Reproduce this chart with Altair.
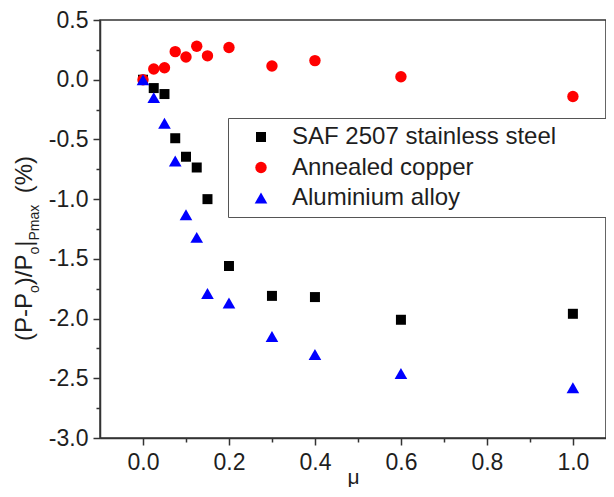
import altair as alt
import pandas as pd

FONT = "Liberation Sans"

# ---- data ----
names = ["SAF 2507 stainless steel", "Annealed copper", "Aluminium alloy"]
mu_steel = [0.0, 0.025, 0.05, 0.075, 0.1, 0.125, 0.15, 0.2, 0.3, 0.4, 0.6, 1.0]
val_steel = [0.0, -0.07, -0.12, -0.49, -0.645, -0.735, -1.0, -1.56, -1.81, -1.82, -2.01, -1.96]
mu_copper = [0.0, 0.025, 0.05, 0.075, 0.1, 0.125, 0.15, 0.2, 0.3, 0.4, 0.6, 1.0]
val_copper = [0.0, 0.09, 0.10, 0.235, 0.19, 0.28, 0.20, 0.27, 0.115, 0.16, 0.025, -0.14]
mu_alum = [0.0, 0.025, 0.05, 0.075, 0.1, 0.125, 0.15, 0.2, 0.3, 0.4, 0.6, 1.0]
val_alum = [0.0, -0.15, -0.365, -0.68, -1.13, -1.32, -1.79, -1.87, -2.15, -2.30, -2.46, -2.58]

x_ticks = [0.0, 0.1, 0.2, 0.3, 0.4, 0.5, 0.6, 0.7, 0.8, 0.9, 1.0]
y_ticks = [-3.0, -2.75, -2.5, -2.25, -2.0, -1.75, -1.5, -1.25, -1.0, -0.75,
           -0.5, -0.25, 0.0, 0.25, 0.5]

rows = []
for name, mus, vals in [(names[0], mu_steel, val_steel),
                        (names[1], mu_copper, val_copper),
                        (names[2], mu_alum, val_alum)]:
    for m, v in zip(mus, vals):
        rows.append({"series": name, "mu": m, "val": v})
df = pd.DataFrame(rows)

AX = "#333333"
TXT = "#1e1e1e"

leg = alt.Legend(
    title="\u00a0", titleOrient="right", titleFontSize=2, titlePadding=47,
    orient="none", legendX=128, legendY=98,
    strokeColor="#555555", fillColor="white", padding=7, rowPadding=6.5,
    labelFontSize=24, labelFont=FONT, labelColor=TXT, labelOffset=19,
    symbolOffset=14, symbolStrokeWidth=0, labelLimit=400,
)

x_axis = alt.Axis(
    values=x_ticks,
    labelExpr="round(datum.value*10) % 2 == 0 ? format(datum.value, '.1f') : ''",
    tickSize={"condition": {"test": "round(datum.value*10) % 2 != 0", "value": 4}, "value": 7},
    labelFontSize=23, labelFont=FONT, labelColor=TXT, labelPadding=6,
    title="μ", titleFont=FONT, titleFontSize=21, titleFontWeight="normal",
    titleColor=TXT, titleY=45, titleBaseline="alphabetic", grid=False,
    domainColor=AX, domainWidth=1.5, tickColor=AX, tickWidth=1.5,
)
y_axis = alt.Axis(
    values=y_ticks,
    labelExpr="round(datum.value*4) % 2 == 0 ? (datum.value < 0 ? '-' : '') + format(abs(datum.value), '.1f') : ''",
    tickSize={"condition": {"test": "round(datum.value*4) % 2 != 0", "value": 4}, "value": 7},
    labelFontSize=23, labelFont=FONT, labelColor=TXT, labelPadding=5,
    title=None, grid=False,
    domainColor=AX, domainWidth=1.5, tickColor=AX, tickWidth=1.5,
)

points = alt.Chart(df).mark_point(filled=True, opacity=1, strokeWidth=0).encode(
    x=alt.X("mu:Q", scale=alt.Scale(domain=[-0.1, 1.077], nice=False, zero=False), axis=x_axis),
    y=alt.Y("val:Q", scale=alt.Scale(domain=[-3.0, 0.5], nice=False, zero=False), axis=y_axis),
    color=alt.Color("series:N", scale=alt.Scale(domain=names, range=["#000000", "#ff0000", "#0000ff"]), legend=leg),
    shape=alt.Shape("series:N", scale=alt.Scale(domain=names, range=["square", "circle", "triangle-up"]), legend=leg),
    size=alt.Size("series:N", scale=alt.Scale(domain=names, range=[100, 160, 300]), legend=leg),
)

# ---- y-axis title built from text pieces (main + subscripts) ----
ADV = {"(": 333, "P": 667, "-": 333, ")": 333, "/": 278, "|": 260, " ": 278,
       "%": 889, "o": 556, "m": 833, "a": 556, "x": 500}


def width(text, size):
    return sum(ADV[c] for c in text) * size / 1000.0


MAIN, SUB = 24, 14
X_MAIN, X_SUB = -68, -61
# (text, is_subscript, gap before in px)
pieces = [("(P-P", False, 0), ("o", True, 0), (")/P", False, 0), ("o", True, 0),
          ("|", False, 0), ("Pmax", True, 0), ("(%)", False, 11.5)]
layers = [points]
ypos = 321.0
for text, sub, gap in pieces:
    size = SUB if sub else MAIN
    ypos -= gap
    layers.append(
        alt.Chart(alt.Data(values=[{}])).mark_text(
            text=text, angle=270, align="left", baseline="alphabetic",
            fontSize=size, font=FONT, color=TXT,
        ).encode(x=alt.value(X_SUB if sub else X_MAIN), y=alt.value(ypos))
    )
    ypos -= width(text, size)

chart = alt.layer(*layers).properties(
    width=506, height=418,
    autosize=alt.AutoSizeParams(type="none"),
    padding={"left": 92, "top": 12, "right": 0, "bottom": 49},
    background="white",
).configure_view(stroke=AX, strokeWidth=1.5)

chart.save("out.html", embed_options={"renderer": "svg", "actions": False})
